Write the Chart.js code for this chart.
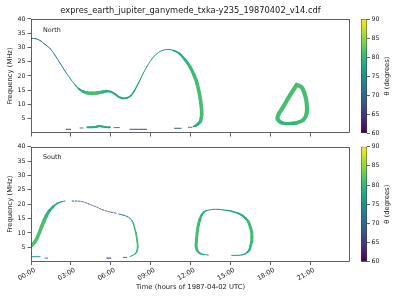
<!DOCTYPE html>
<html><head><meta charset="utf-8">
<script src="https://cdn.jsdelivr.net/npm/chart.js@4/dist/chart.umd.min.js"></script>
<style>
html,body{margin:0;padding:0;background:#fff;width:400px;height:300px;overflow:hidden}
canvas{position:absolute}
</style></head><body>
<canvas id="top" width="352" height="140" style="left:0;top:0"></canvas>
<canvas id="bot" width="352" height="160" style="left:0;top:140px"></canvas>
<canvas id="cbTop" width="45" height="140" style="left:355px;top:0"></canvas>
<canvas id="cbBot" width="45" height="160" style="left:355px;top:140px"></canvas>
<script>
// ---------------- data ----------------
const chartTitle = 'expres_earth_jupiter_ganymede_txka-y235_19870402_v14.cdf';
const panelNames = ['North', 'South'];
const xAxisTitle = 'Time (hours of 1987-04-02 UTC)';
const yAxisTitle = 'Frequency (MHz)';
const cbTitle = 'θ (degrees)';
const timeTicks = [0, 3, 6, 9, 12, 15, 18, 21];
const freqTicks = [5, 10, 15, 20, 25, 30, 35, 40];
const thetaTicks = [60, 65, 70, 75, 80, 85, 90];

// tracks: [hour, frequency MHz, theta deg]
const northMain = [[0.00,33.2,69],[0.35,33.1,69],[0.70,32.4,69.5],[1.05,31.1,70],[1.45,29.6,71],[1.80,27.3,72],[2.20,24.4,73],[2.55,21.8,74],[2.95,19.1,75],[3.30,17.0,76],[3.60,15.5,77],[3.90,14.6,78.5],[4.20,14.1,80.5],[4.60,13.9,81],[5.00,14.1,81],[5.40,14.4,80],[5.70,14.7,78.5],[6.00,14.5,78],[6.30,13.7,78],[6.60,12.7,78],[6.90,12.2,78],[7.20,12.3,77.5],[7.50,13.0,77],[7.75,14.6,77],[8.10,17.6,76.5],[8.45,21.0,76],[8.85,24.3,76],[9.20,26.6,76],[9.60,28.3,76],[10.0,29.1,76],[10.35,29.3,76],[10.75,28.9,77],[11.15,27.9,78],[11.55,25.9,79],[11.95,23.3,80],[12.25,20.5,80.5],[12.50,17.3,81],[12.70,13.0,81],[12.82,9.0,81],[12.84,6.5,81],[12.75,4.2,80.5],[12.55,3.1,79.5],[12.35,2.5,77.5],[12.22,2.3,77]];
const northLoop = [[19.99,16.9,81],[19.49,13.3,81],[18.98,9.2,81],[18.60,6.3,81],[18.56,4.8,81],[18.86,3.6,80],[19.36,3.3,79.5],[19.99,3.6,80],[20.49,4.6,80.5],[20.74,6.9,81],[20.74,10.4,81],[20.62,13.3,81],[20.37,16.0,81],[19.99,16.9,81]];
const northLow1 = [[2.63,1.3,67],[2.98,1.3,67]];
const northLow2 = [[3.69,1.75,75],[3.92,1.75,75]];
const northLow3 = [[4.24,2.0,78],[4.60,2.05,78],[4.94,2.2,78.5],[5.10,2.45,78.5],[5.30,2.35,78],[5.60,2.05,78],[5.94,2.0,77.5]];
const northLow4 = [[6.25,1.9,76],[6.65,1.9,76]];
const northLow5 = [[7.45,1.3,67],[8.70,1.3,67]];
const northLow6 = [[10.80,1.65,69],[11.30,1.65,69]];
const northLow7 = [[11.84,2.0,76],[12.10,2.0,76]];

const southRise = [[0.02,5.6,81.5],[0.25,6.6,81.5],[0.43,8.0,81.5],[0.62,10.0,81.5],[0.80,12.2,81.5],[1.00,14.4,81],[1.18,16.2,80.5],[1.40,17.8,79.5],[1.68,19.2,78],[2.00,20.3,77],[2.31,20.9,76],[2.56,21.1,76]];
const southTop = [[3.10,21.1,67],[3.50,21.1,67],[3.85,20.9,67],[4.19,20.4,67],[4.55,19.7,67],[4.94,19.0,67],[5.30,18.2,67],[5.70,17.6,67],[6.05,17.2,67],[6.45,16.8,68]];
const southFall = [[6.60,16.6,73],[6.95,16.2,74],[7.25,15.7,75],[7.45,15.1,76],[7.60,14.2,77.5],[7.70,13.3,79],[7.80,11.5,80],[7.90,9.9,80.5],[7.98,7.5,81],[8.03,5.2,81],[7.95,3.5,80],[7.80,2.6,78],[7.60,2.1,77],[7.45,1.8,76]];
const southLoop = [[13.34,2.3,76],[13.00,2.5,77],[12.72,2.9,78],[12.50,4.0,79.5],[12.42,5.2,80.5],[12.44,7.0,81],[12.47,8.7,81],[12.52,10.8,81],[12.59,12.8,81],[12.70,14.6,80.5],[12.84,16.2,79],[13.00,17.2,78],[13.22,17.8,77],[13.72,18.2,76],[14.10,18.2,76],[14.47,18.0,76.5],[14.85,17.8,77],[15.22,17.4,77.5],[15.55,16.9,78],[15.85,16.2,78.5],[16.15,15.1,79.5],[16.35,13.9,80],[16.50,12.0,80.5],[16.60,10.4,81],[16.62,8.5,81],[16.60,7.0,80.5],[16.52,5.5,80],[16.43,4.1,79],[16.28,3.3,78],[16.10,2.7,77],[15.85,2.35,76.5],[15.60,2.2,76],[15.10,2.2,76]];
const southLow1 = [[0.05,1.74,75],[0.68,1.74,75]];
const southLow2 = [[1.05,1.25,74],[1.25,1.25,74]];
const southLow3 = [[5.70,1.25,62],[6.00,1.25,62]];
const southLow4 = [[6.95,1.5,74],[7.20,1.5,74]];

const thetaMin = 60, thetaMax = 90;

// ---------------- styling ----------------
const FONT = 'DejaVu Sans';
const AXIS_COLOR = '#3a3a3a';
const TEXT_COLOR = '#1a1a1a';
const VIRIDIS = ['#440154','#482878','#3e4989','#31688e','#26828e','#1f9e89','#35b779','#6ece58','#b5de2b','#fde725'];
const VRGB = VIRIDIS.map(h => [1,3,5].map(i => parseInt(h.substr(i,2),16)));
function viridis(v){
  v = Math.max(0, Math.min(1, v));
  const s = v * (VRGB.length - 1);
  const i = Math.min(Math.floor(s), VRGB.length - 2);
  const f = s - i, a = VRGB[i], b = VRGB[i+1];
  return 'rgb(' + a.map((c,k) => Math.round(c + (b[k]-c)*f)).join(',') + ')';
}
const thetaColor = th => viridis((th - thetaMin) / (thetaMax - thetaMin));
const widthFor = th => Math.max(1.0, Math.min(3.6, 0.9 + (th - 76) * 0.55));

function trackDataset(track, opt = {}){
  const ws = opt.widthScale || 1;
  const thAt = c => (track[c.p0DataIndex][2] + track[c.p1DataIndex][2]) / 2;
  return {
    data: track.map(p => ({x: p[0], y: p[1]})),
    showLine: true, pointRadius: 0, pointHoverRadius: 0, pointHitRadius: 0,
    tension: 0.3,
    borderColor: thetaColor(track[0][2]),
    borderWidth: widthFor(track[0][2]) * ws,
    borderCapStyle: 'round', borderJoinStyle: 'round',
    borderDash: opt.dash || [],
    segment: {
      borderColor: c => thetaColor(thAt(c)),
      borderWidth: c => Math.max(1.0, widthFor(thAt(c)) * ws)
    }
  };
}

const framePlugin = {
  id: 'frame',
  afterDraw(chart){
    const a = chart.chartArea, ctx = chart.ctx;
    ctx.save();
    ctx.strokeStyle = AXIS_COLOR; ctx.lineWidth = 0.8;
    ctx.strokeRect(Math.round(a.left)+0.5, Math.round(a.top)+0.5, Math.round(a.right-a.left)-1, Math.round(a.bottom-a.top)-1);
    const name = chart.options.plugins.frame.name;
    ctx.fillStyle = TEXT_COLOR;
    ctx.font = '6.4px "' + FONT + '"';
    ctx.textBaseline = 'middle';
    ctx.textAlign = 'left';
    ctx.fillText(name, a.left + 12, a.top + 11);
    ctx.restore();
  }
};

function makePanel(id, datasets, name, bottom){
  const x = {
    type: 'linear', min: 0, max: 24,
    afterBuildTicks: s => { s.ticks = timeTicks.map(v => ({value: v})); },
    afterFit: s => { s.height = bottom ? 38.3 : 7; },
    ticks: {
      display: bottom, autoSkip: false, minRotation: 30, maxRotation: 30, padding: 1, labelOffset: 4,
      font: {family: FONT, size: 6.6}, color: TEXT_COLOR,
      callback: v => String(v).padStart(2,'0') + ':00'
    },
    grid: {drawOnChartArea: false, tickLength: 3.5, color: AXIS_COLOR, lineWidth: 0.8},
    border: {display: false},
    title: bottom ? {display: true, text: xAxisTitle, font: {family: FONT, size: 6.8}, color: TEXT_COLOR, padding: {top: 0, bottom: 9.1}} : {display: false}
  };
  const y = {
    type: 'linear', min: 0, max: 40,
    afterBuildTicks: s => { s.ticks = freqTicks.map(v => ({value: v})); },
    afterFit: s => { s.width = 31; },
    ticks: {font: {family: FONT, size: 6.3}, color: TEXT_COLOR, padding: 2},
    grid: {drawOnChartArea: false, tickLength: 3.5, color: AXIS_COLOR, lineWidth: 0.8},
    border: {display: false},
    title: {display: true, text: yAxisTitle, font: {family: FONT, size: 6.8}, color: TEXT_COLOR, padding: {top: 6, bottom: 0}}
  };
  return new Chart(document.getElementById(id), {
    type: 'scatter',
    data: {datasets},
    options: {
      responsive: false, animation: false, devicePixelRatio: 1,
      layout: {padding: bottom ? {left: 0, right: 2, top: 6.7, bottom: 0} : {left: 0, right: 2, top: 0, bottom: 0}},
      plugins: {
        legend: {display: false}, tooltip: {enabled: false},
        title: bottom ? {display: false} : {display: true, text: chartTitle, fullSize: false, color: TEXT_COLOR,
          font: {family: FONT, size: 8.3, weight: 'normal'}, padding: {top: 6, bottom: 3}},
        frame: {name}
      },
      scales: {x, y}
    },
    plugins: [framePlugin]
  });
}

const cbLabelPlugin = {
  id: 'cblabel',
  afterDraw(chart){
    const a = chart.chartArea, ctx = chart.ctx;
    ctx.save();
    ctx.fillStyle = TEXT_COLOR;
    ctx.font = '6.8px "' + FONT + '"';
    ctx.textAlign = 'center'; ctx.textBaseline = 'middle';
    ctx.translate(32, (a.top + a.bottom) / 2);
    ctx.rotate(-Math.PI / 2);
    ctx.fillText(cbTitle, 0, 0);
    ctx.restore();
  }
};

function makeColorbar(id, padTop, padBottom){
  return new Chart(document.getElementById(id), {
    type: 'bar',
    data: {labels: ['θ'], datasets: [{
      data: [[thetaMin, thetaMax]],
      backgroundColor: c => {
        const a = c.chart.chartArea; if (!a) return '#888';
        const g = c.chart.ctx.createLinearGradient(0, a.bottom, 0, a.top);
        for (let i = 0; i <= 30; i++) g.addColorStop(i/30, viridis(i/30));
        return g;
      },
      borderColor: AXIS_COLOR, borderWidth: 0.8, borderSkipped: false,
      barPercentage: 1, categoryPercentage: 1
    }]},
    options: {
      responsive: false, animation: false, devicePixelRatio: 1,
      layout: {padding: {left: 6, right: 0, top: padTop, bottom: padBottom}},
      plugins: {legend: {display: false}, tooltip: {enabled: false}},
      scales: {
        x: {display: false},
        y: {
          position: 'right', min: thetaMin, max: thetaMax,
          afterBuildTicks: s => { s.ticks = thetaTicks.map(v => ({value: v})); },
          afterFit: s => { s.width = 33; },
          ticks: {font: {family: FONT, size: 6.3}, color: TEXT_COLOR, padding: 1.5},
          grid: {drawOnChartArea: false, tickLength: 3, color: AXIS_COLOR, lineWidth: 0.8},
          border: {display: false}
        }
      }
    },
    plugins: [cbLabelPlugin]
  });
}

makePanel('top', [
  trackDataset(northMain), trackDataset(northLoop, {widthScale: 1.15}),
  trackDataset(northLow1), trackDataset(northLow2), trackDataset(northLow3), trackDataset(northLow4),
  trackDataset(northLow5), trackDataset(northLow6), trackDataset(northLow7)
], panelNames[0], false);

makePanel('bot', [
  trackDataset(southRise), trackDataset(southTop, {dash: [1.6, 1.6]}), trackDataset(southFall, {widthScale: 0.5}),
  trackDataset(southLoop, {widthScale: 0.85}),
  trackDataset(southLow1), trackDataset(southLow2), trackDataset(southLow3), trackDataset(southLow4)
], panelNames[1], true);

makeColorbar('cbTop', 19, 7);
makeColorbar('cbBot', 6.7, 38.3);
</script>
</body></html>
